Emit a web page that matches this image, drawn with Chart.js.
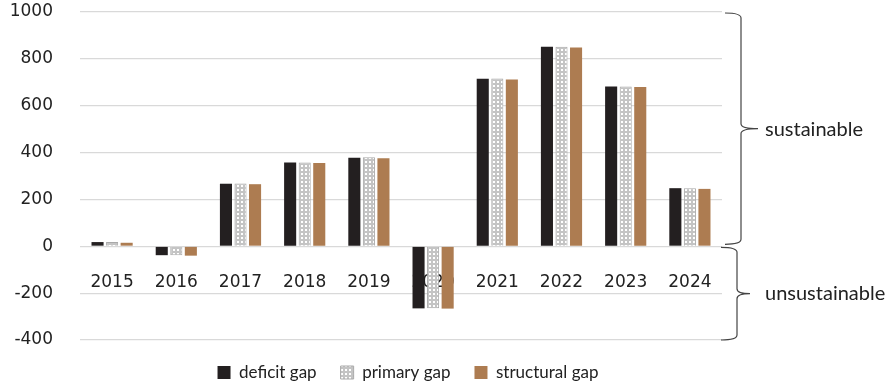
<!DOCTYPE html>
<html>
<head>
<meta charset="utf-8">
<script src="https://cdn.jsdelivr.net/npm/chart.js@4.4.1/dist/chart.umd.min.js"></script>
<style>
  html, body { margin: 0; padding: 0; background: #fff; }
  #wrap { width: 890px; height: 383px; }
</style>
</head>
<body>
<div id="wrap"><canvas id="gapChart"></canvas></div>
<script>
const years = ["2015", "2016", "2017", "2018", "2019", "2020", "2021", "2022", "2023", "2024"];
const deficitGap = [18, -38, 267, 358, 378, -265, 715, 852, 682, 248];
const primaryGap = [18, -38, 268, 358, 380, -265, 716, 852, 682, 248];
const structuralGap = [15, -40, 265, 355, 376, -266, 712, 849, 680, 245];
const yTicks = [-400, -200, 0, 200, 400, 600, 800, 1000];
const zoneLabels = ["sustainable", "unsustainable"];

// dotted fill for the primary gap bars
function makeDots() {
    const c = document.createElement('canvas');
    c.width = 4; c.height = 4;
    const g = c.getContext('2d');
    g.fillStyle = '#c4c4c4';
    g.fillRect(0, 0, 4, 4);
    g.fillStyle = '#ffffff';
    g.fillRect(1, 1, 2, 2);
    return g.createPattern(c, 'repeat');
}
const dots = makeDots();

// curly braces on the right side
function brace(ctx, x, yTop, yBot, depth) {
    const yMid = (yTop + yBot) / 2;
    const r = 5;
    ctx.beginPath();
    ctx.moveTo(x - 16, yTop);
    ctx.quadraticCurveTo(x, yTop, x, yTop + r);
    ctx.lineTo(x, yMid - r);
    ctx.quadraticCurveTo(x, yMid, x + depth, yMid);
    ctx.moveTo(x + depth, yMid);
    ctx.quadraticCurveTo(x, yMid, x, yMid + r);
    ctx.lineTo(x, yBot - r);
    ctx.quadraticCurveTo(x, yBot, x - 16, yBot);
    ctx.stroke();
}

const bracePlugin = {
    id: 'braces',
    afterDraw(chart) {
        const ctx = chart.ctx;
        const y = chart.scales.y;
        const right = chart.chartArea.right;
        const top = y.getPixelForValue(1000);
        const zero = y.getPixelForValue(0);
        const bottom = y.getPixelForValue(-400);
        ctx.save();
        ctx.strokeStyle = '#444';
        ctx.lineWidth = 1.2;
        brace(ctx, right + 19, top + 1, zero - 2, 17);
        brace(ctx, right + 15, zero + 1, bottom, 13);
        ctx.fillStyle = '#222';
        ctx.font = '20px Lato';
        ctx.textBaseline = 'middle';
        ctx.fillText(zoneLabels[0], right + 43, (top + zero) / 2);
        ctx.fillText(zoneLabels[1], right + 43, (zero + bottom) / 2);
        ctx.restore();
    }
};

const chart = new Chart(document.getElementById('gapChart'), {
    type: 'bar',
    data: {
        labels: years,
        datasets: [
            {
                label: 'deficit gap',
                data: deficitGap,
                backgroundColor: '#231f20',
                borderWidth: 0
            },
            {
                label: 'primary gap',
                data: primaryGap,
                backgroundColor: dots,
                borderColor: '#a9a9a9',
                borderWidth: 1
            },
            {
                label: 'structural gap',
                data: structuralGap,
                backgroundColor: '#ad7c51',
                borderWidth: 0
            }
        ]
    },
    options: {
        responsive: true,
        maintainAspectRatio: false,
        animation: false,
        categoryPercentage: 0.68,
        barPercentage: 0.83,
        layout: { padding: { top: 0, right: 74, left: 0, bottom: 0 } },
        plugins: {
            legend: {
                position: 'bottom',
                maxHeight: 43,
                labels: {
                    boxWidth: 13,
                    boxHeight: 13,
                    padding: 24,
                    color: '#222',
                    font: { family: 'Lato', size: 17 }
                }
            },
            tooltip: { enabled: false }
        },
        scales: {
            x: {
                position: { y: 0 },
                afterFit(scale) { scale.height = 0; },
                grid: { display: false, drawTicks: false },
                border: { display: false },
                ticks: {
                    padding: 26,
                    color: '#222',
                    font: { family: 'DejaVu Sans', size: 17 }
                }
            },
            y: {
                min: -400,
                max: 1000,
                afterBuildTicks(scale) {
                    scale.ticks = yTicks.map(v => ({ value: v }));
                },
                afterFit(scale) {
                    scale.width = 80;
                    scale.paddingTop = 12;
                    scale.paddingBottom = 0;
                },
                grid: { color: '#d9d9d9', lineWidth: 1.2, drawTicks: false },
                border: { display: false },
                ticks: {
                    padding: 27,
                    color: '#222',
                    font: { family: 'DejaVu Sans', size: 17 },
                    callback: v => String(v)
                }
            },
            side: {
                position: 'right',
                display: true,
                afterFit(scale) { scale.width = 94; },
                grid: { display: false, drawTicks: false },
                border: { display: false },
                ticks: { display: false }
            }
        }
    },
    plugins: [bracePlugin]
});
</script>
</body>
</html>
